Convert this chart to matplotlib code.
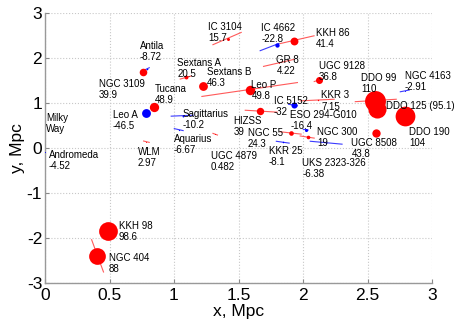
import numpy as np
import matplotlib
matplotlib.use("Agg")
import matplotlib.pyplot as plt
from matplotlib.ticker import FuncFormatter

plt.rcParams['font.family'] = ['Liberation Sans', 'DejaVu Sans']
plt.rcParams['axes.unicode_minus'] = False

# ---------------- data ----------------
names = ["Milky\nWay", "Andromeda", "NGC 3109", "Antila", "Tucana", "Leo A",
         "Sextans A", "Sextans B", "IC 3104", "IC 4662", "KKH 86", "GR 8",
         "Leo P", "UGC 9128", "KKR 3", "IC 5152", "HIZSS", "NGC 55",
         "ESO 294-G010", "NGC 300", "KKR 25", "UKS 2323-326", "UGC 4879",
         "WLM", "Sagittarius", "Aquarius", "DDO 99", "DDO 125", "NGC 4163",
         "DDO 190", "UGC 8508", "KKH 98", "NGC 404"]
gx = [0.0, 0.0, 0.760, 0.788, 0.843, 0.786, 1.096, 1.225, 1.419, 1.802, 1.928,
      1.812, 1.587, 2.122, 2.114, 1.928, 1.664, 1.905, 2.021, 2.039, 1.843,
      2.176, 1.319, 0.786, 1.067, 1.036, 2.556, 2.571, 2.788, 2.792, 2.563,
      0.488, 0.403]
gy = [0.729, -0.093, 1.696, 1.751, 0.922, 0.767, 1.567, 1.367, 2.418, 2.291,
      2.367, 1.884, 1.291, 1.507, 1.062, 0.951, 0.818, 0.344, 0.407, 0.247,
      0.129, 0.118, 0.307, 0.140, 0.707, 0.407, 1.051, 0.862, 1.269, 0.700,
      0.344, -1.842, -2.398]
vel = [np.nan, -4.52, 39.9, -8.72, 48.9, -46.5, 20.5, 46.3, 15.7, -22.8, 41.4,
       4.22, 49.8, 36.8, 7.15, -32, 39, 24.3, -16.4, 19, -8.1, -6.38, 0.482,
       2.97, -10.2, -6.67, 110, 95.1, -2.91, 104, 43.8, 98.6, 88]
# direction segments (start / end), NaN = none drawn
seg_x0 = [np.nan, np.nan, np.nan, 0.773, np.nan, np.nan, 1.044, np.nan, 1.298,
          1.664, 1.819, 1.690, 1.212, 2.083, 1.974, 1.884, 1.548, 1.819, 1.998,
          1.974, 1.789, 2.052, 1.298, 0.760, 0.974, 0.998, 2.401, np.nan,
          2.750, np.nan, np.nan, np.nan, 0.360]
seg_y0 = [np.nan, np.nan, np.nan, 1.736, np.nan, np.nan, 1.529, np.nan, 2.291,
          2.158, 2.318, 1.811, 1.144, 1.473, 1.047, 0.973, 0.840, 0.362, 0.418,
          0.269, 0.151, 0.151, 0.329, 0.158, 0.707, 0.433, 1.029, np.nan,
          1.247, np.nan, np.nan, np.nan, -2.027]
seg_x1 = [np.nan, np.nan, np.nan, 0.812, np.nan, np.nan, 1.137, np.nan, 1.525,
          1.819, 2.090, 1.936, 1.961, 2.153, 2.246, 1.961, 1.804, 1.990, 2.044,
          2.091, 1.897, 2.307, 1.341, 0.812, 1.153, 1.075, 2.727, np.nan,
          2.828, np.nan, np.nan, np.nan, 0.455]
seg_y1 = [np.nan, np.nan, np.nan, 1.789, np.nan, np.nan, 1.602, np.nan, 2.573,
          2.329, 2.496, 1.973, 1.456, 1.540, 1.084, 0.936, 0.796, 0.307, 0.396,
          0.218, 0.107, 0.084, 0.284, 0.122, 0.729, 0.384, 1.084, np.nan,
          1.291, np.nan, np.nan, np.nan, -2.767]

xticks = [0, 0.5, 1, 1.5, 2, 2.5, 3]
yticks = [-3, -2, -1, 0, 1, 2, 3]

# label layout offsets (pixels) relative to the galaxy position
label_off = [(1.4, -6.8), (4, -6.8), (-44, -16.3), (-7, 19.2), (1, 13.5),
             (-33.4, -5.5), (-9, 10.8), (4, 10.8), (-20, 8.5), (-16, 12.6),
             (22, 4.2), (-2.3, -0.8), (1.7, 0.9), (0.3, 10.2), (3.7, 0.7),
             (-19.7, 0), (-26, -13.8), (-42.7, -4.2), (-15.3, 10.7), (9, 0.9),
             (-13.7, -12.8), (-23.3, -24.3), (-4.5, -25.8), (-8.4, -14.3),
             (-0.3, -1.5), (-5, -13.6), (-13.3, 19), (9.7, 5), (0, 10.9),
             (3.8, -19.2), (-24.3, -14.2), (10.7, 0.9), (12, -5.8)]

# ---------------- plot ----------------
fig = plt.figure(figsize=(4.63, 3.27), dpi=100)
ax = fig.add_axes([45 / 463, 1 - 283 / 327, 387 / 463, 270 / 327])

RED, BLUE = '#ff0000', '#0000ff'
LRED, LBLUE = '#ff5a5a', '#3a3aff'

for i in range(len(names)):
    v = vel[i]
    pos = (not np.isnan(v)) and v >= 0
    if not np.isnan(seg_x0[i]):
        ax.plot([seg_x0[i], seg_x1[i]], [seg_y0[i], seg_y1[i]],
                color=LRED if pos else LBLUE, lw=0.8, zorder=2,
                solid_capstyle='butt')

for i in range(len(names)):
    v = vel[i]
    if np.isnan(v):
        continue
    ms = 0.19 * abs(v) * 0.72
    ax.plot(gx[i], gy[i], 'o', ms=max(ms, 0.6), mew=0,
            color=RED if v >= 0 else BLUE, zorder=3, clip_on=False)

for i, nm in enumerate(names):
    v = vel[i]
    if np.isnan(v):
        txt = nm
    elif nm == "DDO 125":
        txt = "%s (%s)" % (nm, "%.3g" % v)
    else:
        txt = "%s\n%s" % (nm, "%.3g" % v)
    dx, dy = label_off[i]
    ax.annotate(txt, (gx[i], gy[i]), xytext=(dx, dy - 1.5),
                textcoords='offset pixels',
                ha='left', va='center', fontsize=7, linespacing=1.15,
                color='black', zorder=4)

ax.set_xlim(0, 3)
ax.set_ylim(-3, 3)
ax.set_xticks(xticks)
ax.set_yticks(yticks)
fmt = FuncFormatter(lambda val, p: "%g" % val)
ax.xaxis.set_major_formatter(fmt)
ax.yaxis.set_major_formatter(fmt)
ax.tick_params(direction='in', length=3, width=0.8, color='#888888',
               labelsize=12.5)
ax.tick_params(axis='x', pad=3.5)
ax.tick_params(axis='y', pad=2)
ax.grid(True, linestyle=':', color='#c8c8c8', lw=0.8)
ax.set_axisbelow(True)
for s in ['top', 'right']:
    ax.spines[s].set_visible(False)
for s in ['left', 'bottom']:
    ax.spines[s].set_color('#999999')
    ax.spines[s].set_linewidth(1)
ax.set_xlabel("x, Mpc", fontsize=12.5, labelpad=1)
ax.set_ylabel("y, Mpc", fontsize=12.5, labelpad=1)

fig.savefig("out.png", dpi=100)
